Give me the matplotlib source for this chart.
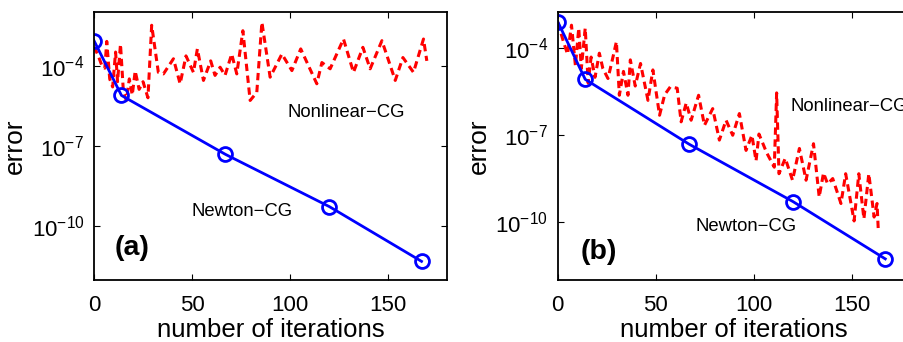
import matplotlib
matplotlib.use("Agg")
import matplotlib.pyplot as plt
from matplotlib.ticker import FixedLocator, LogFormatterSciNotation

plt.rcParams.update({"font.family": ["Liberation Sans", "DejaVu Sans"],
                     "mathtext.fontset": "custom",
                     "mathtext.rm": "Liberation Sans",
                     "mathtext.default": "regular",
                     "axes.linewidth": 1.3})

# Newton-CG: outer iterations (same in both runs)
newton_iter_a = [0, 14, 67, 120, 167]
newton_err_a = [8.5e-4, 7.7e-6, 4.9e-8, 5.5e-10, 5.0e-12]
newton_iter_b = [0, 14, 67, 120, 167]
newton_err_b = [8.3e-4, 8.5e-6, 4.9e-8, 5.1e-10, 5.4e-12]

# Nonlinear-CG, run (a): stalls around 1e-4
ncg_iter_a = [0, 2, 4, 5.5, 6.5, 8, 9.5, 11, 12, 13.5, 15, 16.5, 18, 19.5, 21, 23,
              25, 27.5, 29.4, 32.8, 35.4, 40.5, 43.9, 46.9, 50.7, 52.7, 55.8, 59.5,
              61.7, 64.3, 66.8, 70.2, 72.8, 75.9, 79.6, 83.0, 85.6, 89.8, 95.8,
              100.9, 105.4, 113.6, 116.2, 120.4, 127.2, 132.3, 137.1, 140.8, 146.8,
              153.6, 157.5, 162.9, 168.0, 169.7]
ncg_err_a = [5.0e-4, 2.5e-4, 1.0e-4, 8.0e-5, 8.0e-4, 3.2e-5, 1.6e-5, 3.2e-4, 2.5e-5,
             6.3e-4, 1.0e-5, 5.0e-6, 3.2e-5, 8.0e-6, 6.3e-5, 1.3e-5, 2.5e-5, 6.3e-6,
             3.2e-3, 5.6e-5, 4.9e-5, 1.8e-4, 2.1e-5, 2.3e-4, 5.6e-5, 4.2e-4, 2.8e-5,
             1.5e-4, 4.3e-5, 8.7e-5, 4.3e-5, 2.7e-4, 4.9e-5, 2.0e-3, 5.0e-6, 1.0e-5,
             4.1e-3, 3.7e-5, 2.7e-4, 6.5e-5, 4.2e-4, 2.1e-5, 1.3e-4, 7.6e-5, 9.8e-4,
             5.6e-5, 4.8e-4, 7.6e-5, 8.5e-4, 2.8e-5, 2.0e-4, 5.6e-5, 9.8e-4, 1.5e-4]

# Nonlinear-CG, run (b): slow, noisy decrease
ncg_iter_b = [0, 3, 5, 7, 9, 10.7, 12, 14, 15.5, 17, 19, 21.2, 23, 25.6, 27.5, 29.9,
              31.4, 33.5, 35.8, 37.0, 39.5, 42.2, 46.0, 48.5, 51.9, 54.5, 57.4, 60.9,
              62.9, 65.5, 68.0, 71.8, 74.8, 79.0, 82.4, 85.8, 89.2, 92.6, 96.0, 99.0,
              101.1, 102.6, 106.5, 110.4, 111.6, 112.8, 116.0, 119.7, 123.2, 126.6,
              130.4, 133.3, 135.5, 137.6, 140.2, 144.4, 146.8, 151.1, 153.5, 156.1,
              158.6, 161.3, 162.8, 163.4]
ncg_err_b = [7.9e-4, 1.6e-4, 6.3e-5, 6.3e-4, 2.5e-5, 5.0e-4, 2.0e-5, 5.0e-4, 6.3e-6,
             5.0e-5, 1.0e-5, 6.8e-5, 2.0e-5, 9.1e-6, 3.2e-5, 1.7e-4, 2.4e-6, 1.6e-5,
             2.4e-6, 4.0e-5, 5.0e-6, 3.0e-5, 1.6e-6, 1.8e-5, 4.9e-7, 2.5e-6, 4.7e-6,
             4.2e-6, 2.9e-7, 1.3e-6, 3.3e-7, 2.4e-6, 2.2e-7, 8.3e-7, 6.8e-8, 3.3e-7,
             1.0e-7, 5.6e-7, 3.0e-8, 1.0e-7, 1.3e-8, 1.1e-7, 2.5e-8, 7.9e-9, 2.9e-6,
             4.7e-9, 1.6e-8, 2.8e-9, 3.5e-8, 2.8e-9, 5.1e-8, 7.4e-10, 5.0e-9, 2.1e-9,
             3.2e-9, 4.4e-10, 4.7e-9, 1.1e-10, 4.7e-9, 1.3e-10, 4.7e-9, 1.5e-10,
             4.4e-10, 5.9e-11]

xticks = [0, 50, 100, 150]
yticks = [1e-10, 1e-7, 1e-4]

fig = plt.figure(figsize=(9.04, 3.42), dpi=100)
ax_a = fig.add_axes([0.104, 0.181, 0.3905, 0.784])
ax_b = fig.add_axes([0.617, 0.181, 0.3905, 0.784])

panels = [
    (ax_a, ncg_iter_a, ncg_err_a, newton_iter_a, newton_err_a, (1e-12, 1e-2),
     "(a)", (10.3, 1.6e-11), (98.5, 1.8e-6), (49.8, 3.5e-10)),
    (ax_b, ncg_iter_b, ncg_err_b, newton_iter_b, newton_err_b, (1e-12, 1.8e-3),
     "(b)", (11.9, 9e-12), (118.7, 1.0e-6), (70.4, 7e-11)),
]

for ax, xi, ye, xn, yn, ylim, tag, tag_xy, ncg_xy, nt_xy in panels:
    ax.semilogy(xi, ye, color="red", lw=2.2, dashes=(2.4, 1.5))
    ax.semilogy(xn, yn, "-o", color="blue", lw=2.0, ms=10, mfc="none", mew=2.0)
    ax.set_xlim(0, 180)
    ax.set_ylim(*ylim)
    ax.xaxis.set_major_locator(FixedLocator(xticks))
    ax.yaxis.set_major_locator(FixedLocator(yticks))
    ax.yaxis.set_minor_locator(FixedLocator([]))
    ax.yaxis.set_major_formatter(LogFormatterSciNotation())
    ax.tick_params(direction="in", top=True, right=True, length=4, width=0.8,
                   labelsize=16)
    ax.tick_params(axis="x", pad=11)
    ax.tick_params(axis="y", pad=7)
    ax.set_xlabel("number of iterations", fontsize=18.5, labelpad=1)
    ax.set_ylabel("error", fontsize=19, labelpad=3)
    ax.text(*tag_xy, tag, fontsize=20.5, fontweight="bold", va="center")
    ax.text(*ncg_xy, "Nonlinear\u2212CG", fontsize=13.3, va="center")
    ax.text(*nt_xy, "Newton\u2212CG", fontsize=13.3, va="center")

fig.savefig("out.png", dpi=100)
